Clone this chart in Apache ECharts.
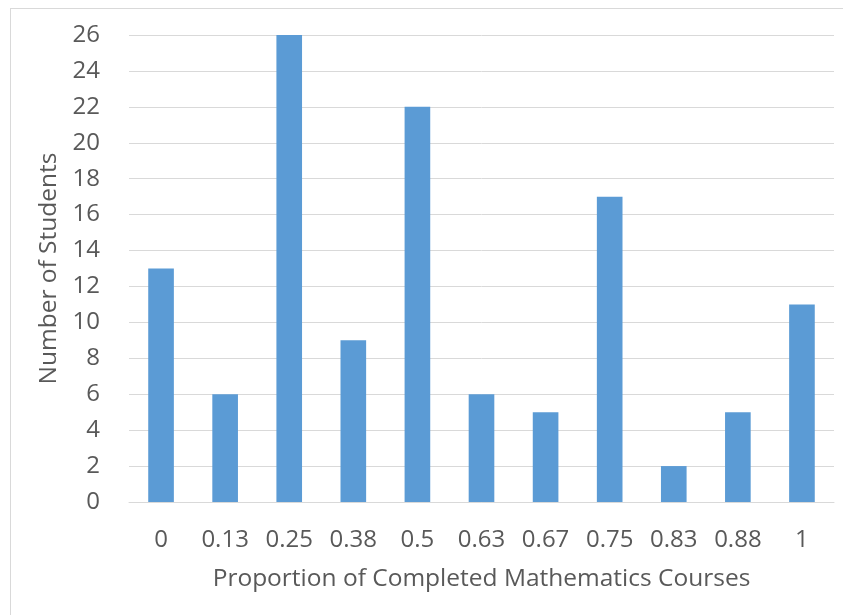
<!DOCTYPE html>
<html>
<head>
<meta charset="utf-8">
<script src="https://cdn.jsdelivr.net/npm/echarts@6/dist/echarts.min.js"></script>
<style>
  html, body { margin: 0; padding: 0; background: #fff; }
  #chart { width: 843px; height: 615px; }
  .frame { position: absolute; left: 10px; top: 8px; width: 840px; height: 620px; border: 1px solid #d9d9d9; pointer-events: none; }
</style>
</head>
<body>
<div id="chart"></div>
<div class="frame"></div>
<script>
const categories = ['0', '0.13', '0.25', '0.38', '0.5', '0.63', '0.67', '0.75', '0.83', '0.88', '1'];
const students = [13, 6, 26, 9, 22, 6, 5, 17, 2, 5, 11];

const textColor = '#595959';
const fontFamily = '"Open Sans", "Liberation Sans", sans-serif';

const chart = echarts.init(document.getElementById('chart'));
chart.setOption({
  animation: false,
  grid: { left: 129, right: 9, top: 35, bottom: 113 },
  xAxis: {
    type: 'category',
    data: categories,
    name: 'Proportion of Completed Mathematics Courses',
    nameLocation: 'middle',
    nameGap: 65,
    nameTextStyle: { color: textColor, fontSize: 24.5, fontFamily: fontFamily },
    axisLine: { lineStyle: { color: '#d9d9d9' } },
    axisTick: { show: false },
    axisLabel: { color: textColor, fontSize: 24, fontFamily: fontFamily, margin: 26 }
  },
  yAxis: {
    type: 'value',
    min: 0,
    max: 26,
    interval: 2,
    name: 'Number of Students',
    nameLocation: 'middle',
    nameGap: 66,
    nameTextStyle: { color: textColor, fontSize: 24.5, fontFamily: fontFamily },
    axisLine: { show: false },
    axisTick: { show: false },
    axisLabel: { color: textColor, fontSize: 24, fontFamily: fontFamily, margin: 29 },
    splitLine: { lineStyle: { color: '#d9d9d9' } }
  },
  series: [{
    type: 'bar',
    data: students,
    barWidth: '40%',
    itemStyle: { color: '#5b9bd5' }
  }]
});
</script>
</body>
</html>
